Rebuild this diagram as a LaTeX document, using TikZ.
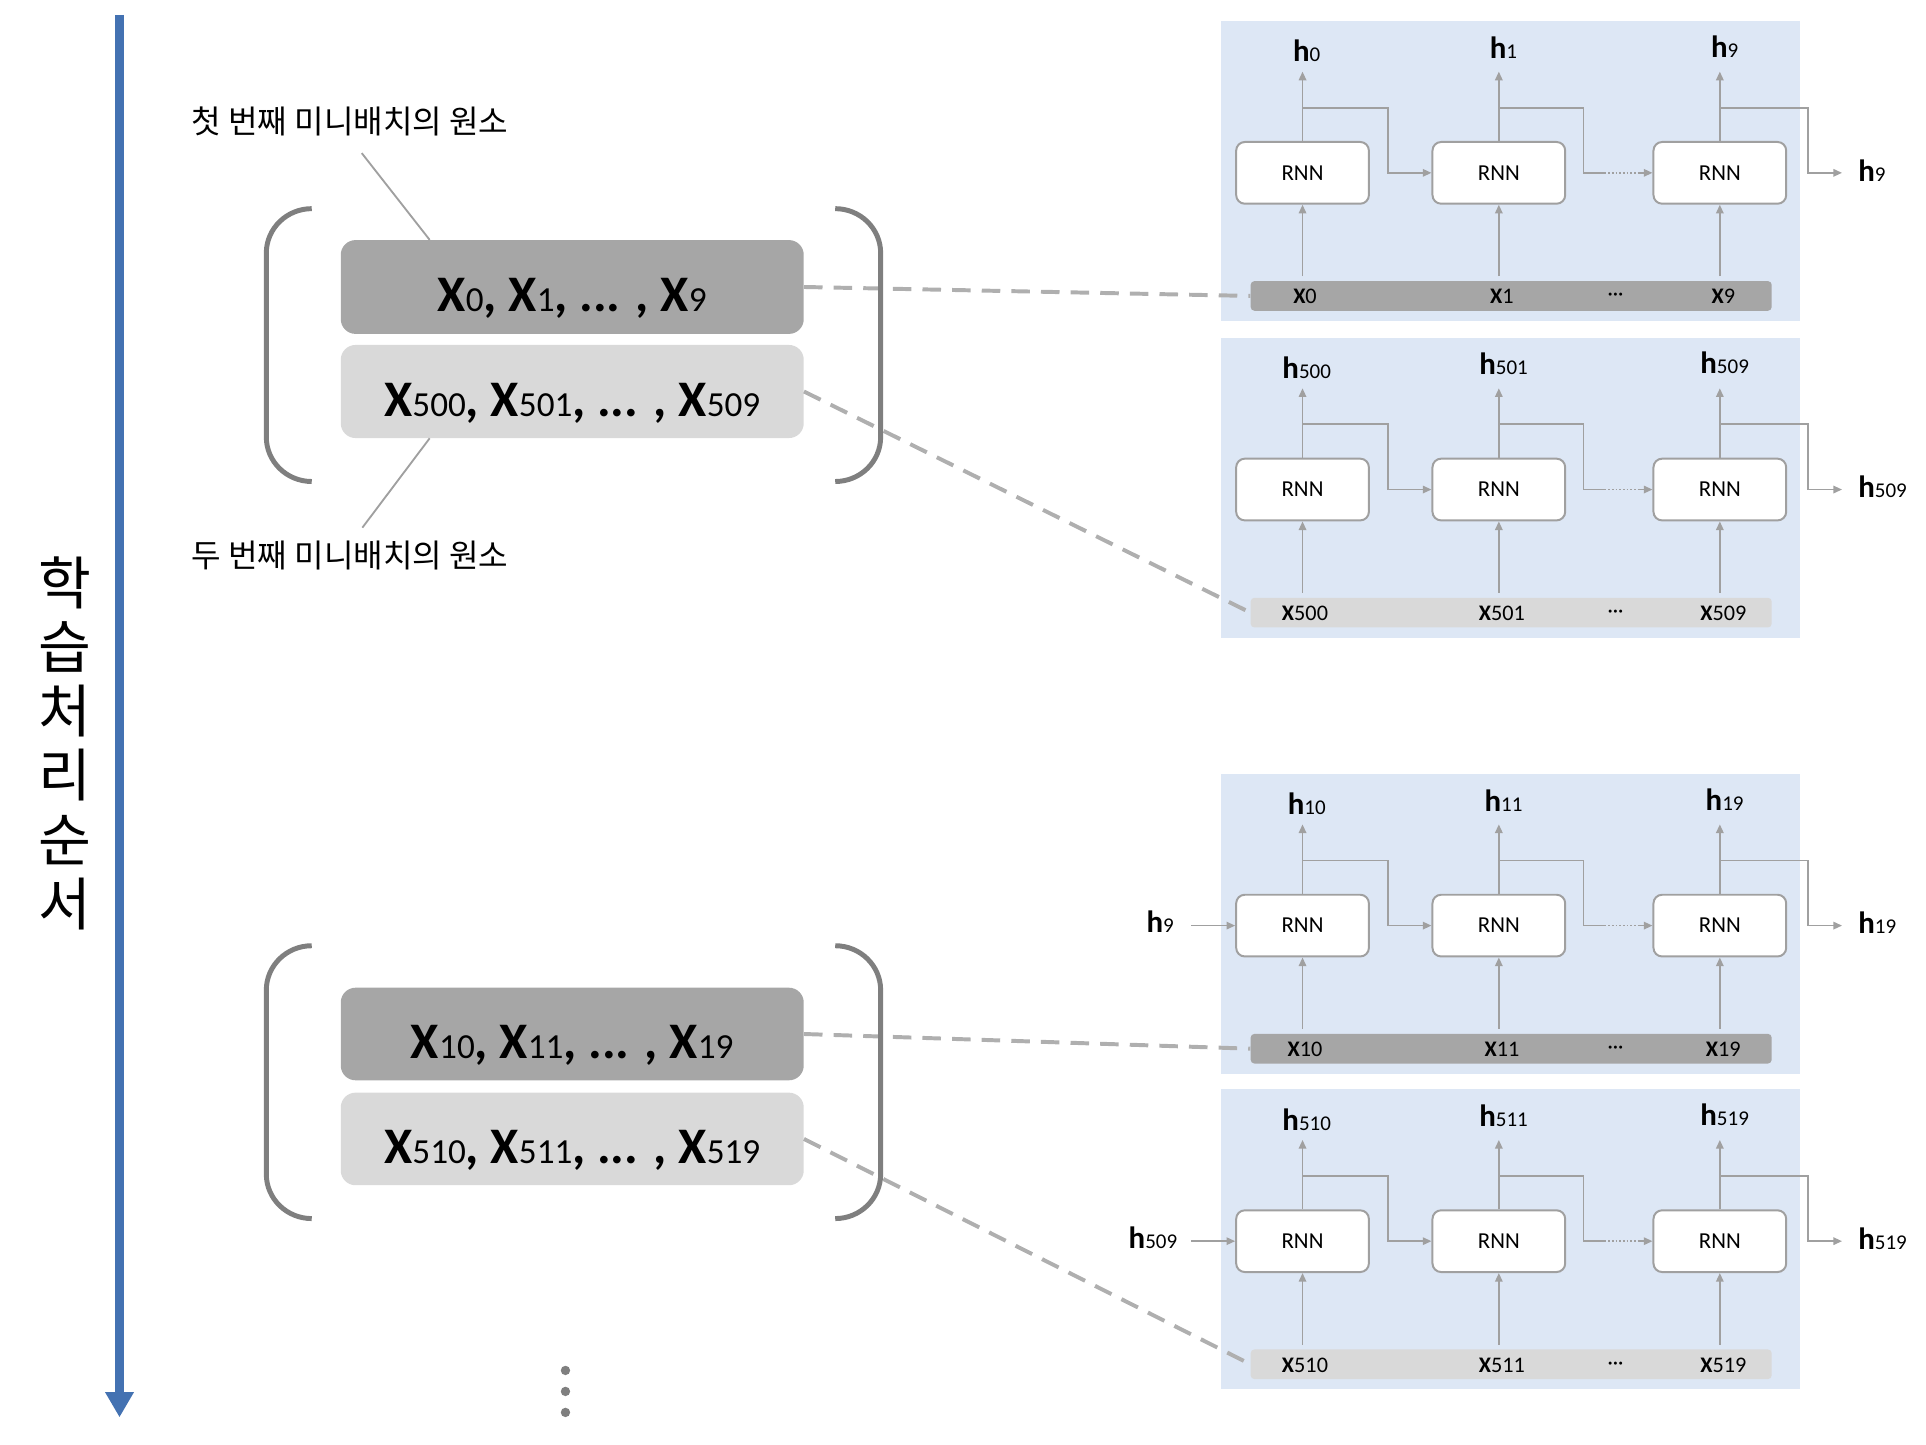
\documentclass[tikz,border=0pt]{standalone}
\usepackage{fontspec}
\setmainfont{Carlito}
\newfontfamily\krfont{Noto Sans CJK KR}
\usetikzlibrary{arrows.meta,calc}
\definecolor{panelbg}{RGB}{221,231,245}
\definecolor{darkbar}{RGB}{166,166,166}
\definecolor{lightbar}{RGB}{217,217,217}
\definecolor{linegray}{RGB}{160,160,160}
\definecolor{brgray}{RGB}{127,127,127}
\definecolor{dashgray}{RGB}{175,175,175}
\definecolor{dotgray}{RGB}{127,127,127}
\definecolor{bluearrow}{RGB}{68,114,178}
\newcommand\hl[1]{{\bfseries h}{\fontsize{17}{17}\selectfont #1}}
\newcommand\xl[1]{{\bfseries X}#1}
\newcommand\bx[1]{X{\fontsize{28.5}{28.5}\selectfont\mdseries #1}}
\tikzset{
  panelbox/.style={fill=panelbg, draw=none, inner sep=0, minimum width=469, minimum height=243, anchor=north west},
  rnnbox/.style={draw=linegray, line width=1.6, fill=white, rounded corners=7, minimum width=107.5, minimum height=50, inner sep=0, font=\fontsize{18.5}{18.5}\selectfont},
  barnode/.style={draw=none, rounded corners=3, minimum width=422, minimum height=24, inner sep=0},
  conn/.style={draw=linegray, line width=1.4, -{Triangle[length=7,width=6]}},
  plainline/.style={draw=linegray, line width=1.4},
  dotline/.style={draw=linegray, line width=1.4, dash pattern=on 1.5 off 1.5},
  hlabel/.style={inner sep=0, anchor=base, font=\fontsize{25}{25}\selectfont},
  xlabel/.style={inner sep=0, anchor=base, font=\fontsize{18}{18}\selectfont},
  batchbox/.style={rounded corners=12, minimum width=375, inner sep=0, draw=none},
  batchtext/.style={inner sep=0, anchor=base, font=\fontsize{41.5}{41.5}\selectfont\bfseries},
  krlabel/.style={inner sep=0, font=\krfont\fontsize{26}{26}\selectfont},
  vtext/.style={inner sep=0, align=center, font=\krfont\fontsize{46.5}{52}\selectfont},
  bracketline/.style={draw=brgray, line width=4},
  pointer/.style={draw=linegray, line width=1.5},
  dashconn/.style={draw=dashgray, line width=3.2, dash pattern=on 15 off 9},
  dotnode/.style={circle, fill=dotgray, draw=none, minimum size=7.6, inner sep=0},
}
\newcommand\rnnpanel[9]{%
  \node[panelbox] (#1bg) at (989,#2) {};
  \node[barnode, fill=#3] (#1bar) at (1224,{#2+223}) {};
  \node[rnnbox] (#1ra) at (1055,{#2+123.3}) {RNN};
  \node[rnnbox] (#1rb) at (1214,{#2+123.3}) {RNN};
  \node[rnnbox] (#1rc) at (1393,{#2+123.3}) {RNN};
  \node[hlabel] (#1ha) at (1058.4,{#2+33.3}) {\hl{#4}};
  \node[hlabel] (#1hb) at (1217.8,{#2+30.5}) {\hl{#5}};
  \node[hlabel] (#1hc) at (1396.9,{#2+29.7}) {\hl{#6}};
  \node[hlabel, anchor=base west] (#1hout) at (1505,{#2+130}) {\hl{#6}};
  \node[xlabel] (#1xa) at (1057,{#2+229.5}) {\xl{#7}};
  \node[xlabel] (#1xb) at (1216.5,{#2+229.5}) {\xl{#8}};
  \node[xlabel] (#1xc) at (1395.8,{#2+229.5}) {\xl{#9}};
  \node[xlabel, font=\fontsize{17}{17}\selectfont] (#1dots) at (1308.5,{#2+227}) {···};
  \coordinate (#1ta) at (1055,{#2+41.3});
  \coordinate (#1tb) at (1214,{#2+41.3});
  \coordinate (#1tc) at (1393,{#2+41.3});
  \coordinate (#1ia) at (1055,{#2+207});
  \coordinate (#1ib) at (1214,{#2+207});
  \coordinate (#1ic) at (1393,{#2+207});
  \coordinate (#1sa) at (1055,{#2+70.5});
  \coordinate (#1sb) at (1214,{#2+70.5});
  \coordinate (#1sc) at (1393,{#2+70.5});
  \coordinate (#1ka) at (1124.5,{#2+123.3});
  \coordinate (#1kb) at (1282.5,{#2+123.3});
  \coordinate (#1kb2) at (1299.5,{#2+123.3});
  \coordinate (#1kb3) at (1327,{#2+123.3});
  \coordinate (#1kc) at (1464.6,{#2+123.3});
  \draw[conn] (#1ra.north) -- (#1ta);
  \draw[conn] (#1rb.north) -- (#1tb);
  \draw[conn] (#1rc.north) -- (#1tc);
  \draw[conn] (#1ia) -- (#1ra.south);
  \draw[conn] (#1ib) -- (#1rb.south);
  \draw[conn] (#1ic) -- (#1rc.south);
  \draw[conn] (#1sa) -| (#1ka) -- (#1rb.west);
  \draw[plainline] (#1sb) -| (#1kb) -- (#1kb2);
  \draw[dotline] (#1kb2) -- (#1kb3);
  \draw[conn] (#1kb3) -- (#1rc.west);
  \draw[conn, shorten >=13] (#1sc) -| (#1kc) -- (#1kc -| #1hout.west);
}
\newcommand\bracketpair[2]{% #1 prefix, #2 top y (line centre)
  \coordinate (#1lt) at (252.5,#2);
  \coordinate (#1lb) at (252.5,{#2+221});
  \coordinate (#1rt) at (676.5,#2);
  \coordinate (#1rb) at (676.5,{#2+221});
  \draw[bracketline] (#1lt) .. controls (232.2,#2) and (215.7,{#2+16.1}) .. (215.7,{#2+36})
     -- (215.7,{#2+185}) .. controls (215.7,{#2+204.9}) and (232.2,{#2+221}) .. (#1lb);
  \draw[bracketline] (#1rt) .. controls (696.8,#2) and (713.3,{#2+16.1}) .. (713.3,{#2+36})
     -- (713.3,{#2+185}) .. controls (713.3,{#2+204.9}) and (696.8,{#2+221}) .. (#1rb);
}
\begin{document}
\begin{tikzpicture}[x=1pt,y=-1pt]
\useasboundingbox (0,0) rectangle (1560,1170);

% time axis
\coordinate (axtop) at (96.8,12);
\coordinate (axend) at (96.8,1148);
\draw[bluearrow, line width=7.3, -{Triangle[length=20.5,width=22]}] (axtop) -- (axend);
\node[vtext] (order) at (52.9,602) {학\\습\\처\\리\\순\\서};

% right panels
\rnnpanel{p1}{16.7}{darkbar}{0}{1}{9}{0}{1}{9}
\rnnpanel{p2}{273.2}{lightbar}{500}{501}{509}{500}{501}{509}
\rnnpanel{p3}{626.4}{darkbar}{10}{11}{19}{10}{11}{19}
\rnnpanel{p4}{882}{lightbar}{510}{511}{519}{510}{511}{519}

\node[hlabel, anchor=base east] (hin3) at (951,755.4) {\hl{9}};
\draw[conn, shorten <=14] (hin3.east |- p3ra.west) -- (p3ra.west);
\node[hlabel, anchor=base east] (hin4) at (953.7,1011) {\hl{509}};
\draw[conn, shorten <=11] (hin4.east |- p4ra.west) -- (p4ra.west);

% mini-batch boxes
\node[batchbox, fill=darkbar, minimum height=76] (b1) at (463.5,232.45) {};
\node[batchbox, fill=lightbar, minimum height=75.4] (b2) at (463.5,317.1) {};
\node[batchbox, fill=darkbar, minimum height=75] (b3) at (463.5,837.5) {};
\node[batchbox, fill=lightbar, minimum height=75] (b4) at (463.5,922.5) {};
\node[batchtext] (t1) at ($(b1.center)+(0,20)$) {\bx{0}, \bx{1}, ... , \bx{9}};
\node[batchtext] (t2) at ($(b2.center)+(0,20)$) {\bx{500}, \bx{501}, ... , \bx{509}};
\node[batchtext] (t3) at ($(b3.center)+(0,20)$) {\bx{10}, \bx{11}, ... , \bx{19}};
\node[batchtext] (t4) at ($(b4.center)+(0,20)$) {\bx{510}, \bx{511}, ... , \bx{519}};

% dashed links
\draw[dashconn] (b1.east) -- (p1bar.west);
\draw[dashconn] (b2.east) -- (p2bar.west);
\draw[dashconn] (b3.east) -- (p3bar.west);
\draw[dashconn] (b4.east) -- (p4bar.west);

% brackets
\bracketpair{g1}{169}
\bracketpair{g2}{766}

% labels
\node[krlabel] (lab1) at (283.5,98.5) {첫 번째 미니배치의 원소};
\node[krlabel] (lab2) at (283.5,450) {두 번째 미니배치의 원소};
\coordinate (pa) at (293,124);
\coordinate (pb) at (293.5,427.4);
\draw[pointer] (pa) -- (348,0 |- b1.north);
\draw[pointer] (348,0 |- b2.south) -- (pb);

% continuation dots
\node[dotnode] (d1) at (458,1110) {};
\node[dotnode] (d2) at (458,1127) {};
\node[dotnode] (d3) at (458,1144) {};
\end{tikzpicture}
\end{document}
